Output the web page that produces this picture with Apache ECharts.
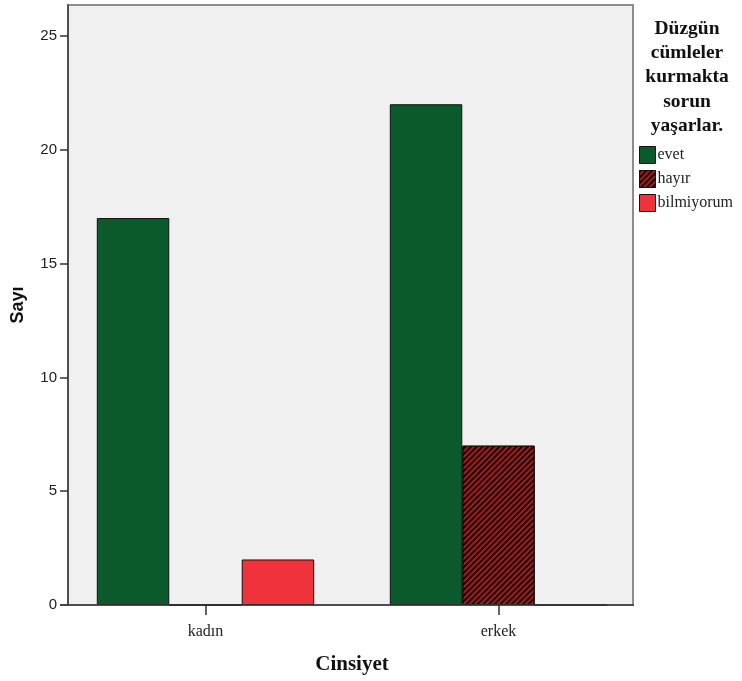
<!DOCTYPE html>
<html>
<head>
<meta charset="utf-8">
<script src="https://cdn.jsdelivr.net/npm/echarts@6/dist/echarts.min.js"></script>
<style>html,body{margin:0;padding:0;background:#fff;}#c{width:742px;height:681px;}</style>
</head>
<body>
<div id="c"></div>
<script>
var categories = ['kadın', 'erkek'];
var seriesNames = ['evet', 'hayır', 'bilmiyorum'];
var evetValues = [17, 22];
var hayirValues = [0, 7];
var bilmiyorumValues = [2, 0];
var yTicks = [0, 5, 10, 15, 20, 25];
var legendTitle = 'Düzgün\ncümleler\nkurmakta\nsorun\nyaşarlar.';
var xTitle = 'Cinsiyet';
var yTitle = 'Sayı';

var chart = echarts.init(document.getElementById('c'), null, {renderer: 'canvas'});
var serif = '"Liberation Serif", "DejaVu Serif", serif';
var sans = '"Liberation Sans", Arial, sans-serif';
var border = {borderColor: '#111', borderWidth: 1};

chart.setOption({
  animation: false,
  backgroundColor: '#ffffff',
  grid: {left: 59, width: 586, top: 5, height: 600, containLabel: false, outerBoundsMode: 'none'},
  graphic: [
    {type: 'rect', z: -10, shape: {x: 68, y: 5, width: 565, height: 600},
     style: {fill: '#f0f0f0', stroke: '#8c8c8c', lineWidth: 2}},
    {type: 'line', z: 100, shape: {x1: 60, y1: 605, x2: 634, y2: 605},
     style: {stroke: '#3a3a3a', lineWidth: 1.5}},
    {type: 'text', z: 100, x: 687, y: 16.5,
     style: {text: legendTitle, textAlign: 'center', fontFamily: serif, fontSize: 19.5,
             fontWeight: 'bold', lineHeight: 24.3, fill: '#111'}}
  ],
  legend: {
    orient: 'vertical', left: 639, top: 146, padding: 0, itemWidth: 16, itemHeight: 17, itemGap: 6,
    icon: 'rect', data: seriesNames,
    textStyle: {fontFamily: serif, fontSize: 16, color: '#222', padding: [0, 0, 0, -3]},
    itemStyle: {borderColor: '#111', borderWidth: 1}
  },
  xAxis: {
    type: 'category', data: categories,
    axisLine: {show: false},
    axisTick: {show: true, alignWithLabel: true, length: 10, lineStyle: {color: '#333', width: 1.5}},
    axisLabel: {fontFamily: serif, fontSize: 16, color: '#222', margin: 19},
    name: xTitle, nameLocation: 'middle', nameGap: 49,
    nameTextStyle: {fontFamily: serif, fontSize: 21, fontWeight: 'bold', color: '#111'}
  },
  yAxis: {
    type: 'value', min: 0, max: 26.36, interval: 5, offset: -9,
    axisLine: {show: true, lineStyle: {color: '#3a3a3a', width: 1.5}},
    axisTick: {show: true, length: 8, customValues: yTicks, lineStyle: {color: '#333', width: 1.5}},
    axisLabel: {fontFamily: sans, fontSize: 15, color: '#222', margin: 11, customValues: yTicks},
    splitLine: {show: false},
    name: yTitle, nameLocation: 'middle', nameGap: 41,
    nameTextStyle: {fontFamily: sans, fontSize: 18, fontWeight: 'bold', color: '#111'}
  },
  series: [
    {name: seriesNames[0], type: 'bar', data: evetValues, barGap: '0%', barCategoryGap: '25.8%',
     itemStyle: Object.assign({color: '#0b5a2c'}, border)},
    {name: seriesNames[1], type: 'bar', data: hayirValues, barGap: '0%', barCategoryGap: '25.8%',
     itemStyle: Object.assign({color: '#a51c1c',
       decal: {symbol: 'rect', symbolSize: 1, dashArrayX: [1, 0], dashArrayY: [2, 2],
               rotation: -Math.PI / 4, color: 'rgba(0,0,0,0.85)'}}, border)},
    {name: seriesNames[2], type: 'bar', data: bilmiyorumValues, barGap: '0%', barCategoryGap: '25.8%',
     itemStyle: Object.assign({color: '#f0333b'}, border)}
  ]
});
</script>
</body>
</html>
